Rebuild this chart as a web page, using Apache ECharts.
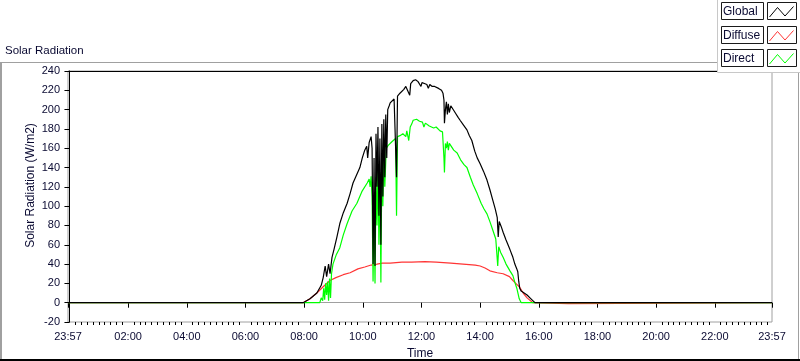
<!DOCTYPE html>
<html><head><meta charset="utf-8">
<script src="https://cdn.jsdelivr.net/npm/echarts@6/dist/echarts.min.js"></script>
<style>html,body{margin:0;padding:0;background:#fff}#c{width:800px;height:361px}</style>
</head><body><div id="c"></div>
<script>
// time values are minutes after 00:00 (23:57 of previous day = -3)
const xLabelTimes = [-3, 120, 240, 360, 480, 600, 720, 840, 960, 1080, 1200, 1320, 1437];
const yTickValues = [-20, 0, 20, 40, 60, 80, 100, 120, 140, 160, 180, 200, 220, 240];
const seriesNames = ['Global', 'Diffuse', 'Direct'];

const globalT = [-3,478,492,506,515,519,523,526,530,533,537,541,547,553,560,568,574,580,587,594,599,604,608,610,613,615,617,619,621,623,625,627,629,631,633,635,637,639,641,643,645,647,649,651,654,656,660,664,667,669,671,676,680,684,688,692,696,698,703,708,713,717,719,721,726,731,734,737,742,747,751,755,758,761,764,766,767,769,771,773,775,777,780,784,790,795,799,806,813,818,823,829,834,840,847,854,860,866,871,875,877,879,883,887,893,901,907,911,915,917,919,921,924,930,936,944,952,1437];
const globalV = [0,0,4,10,18,26,38,27,40,30,47,55,68,82,93,103,113,124,132,140,150,158,162,150,166,168,172,160,40,150,38,175,120,182,90,170,60,185,110,190,130,195,150,200,204,207,209,211,212,130,214,217,219,221,224,226,215,227,230,231,229,228,224,228,227,226,222,226,224,224,223,222,223,220,217,210,186,200,208,195,206,197,204,203,196,192,189,184,179,173,168,157,150,144,136,127,117,106,97,88,68,84,79,73,65,55,47,40,35,32,22,15,12,10,8,4,0,0];

const directT = [-3,512,515,518,520,522,524,526,528,530,532,534,536,539,546,553,560,568,578,588,598,609,613,615,617,619,621,623,625,627,629,631,633,635,637,639,641,643,645,648,652,656,660,664,667,669,671,676,682,688,690,694,697,700,703,710,716,722,725,728,731,736,740,745,750,754,758,763,766,767,769,771,773,775,777,780,786,793,800,807,813,820,826,834,842,848,854,860,866,872,874,876,878,882,887,893,901,907,911,915,920,924,1437];
const directV = [0,0,5,2,15,3,20,8,22,2,25,5,30,40,50,57,70,82,95,103,115,124,128,120,131,110,22,100,20,130,80,140,60,135,21,150,100,155,120,160,163,165,167,169,170,90,172,173,175,172,178,168,182,185,189,190,188,187,182,186,186,183,184,181,182,180,178,177,150,135,165,160,167,158,165,163,158,155,148,143,140,130,122,113,103,97,92,84,75,66,64,38,58,52,47,40,33,28,21,15,4,0,0];

const diffuseT = [-3,478,492,506,520,533,545,560,574,590,604,617,629,640,656,680,700,727,750,780,805,830,840,850,860,875,887,900,907,915,921,928,936,948,952,1020,1022,1437];
const diffuseV = [0,0,4,10,17,23,26,29,31,35,37,39,40,41,41,42,42,42.5,42,41,40,39,38,36,33,31,30,27,23,19,16,10,5,0,-1,-1,0,0];

const colors = { Global: '#000000', Diffuse: '#ff3535', Direct: '#00ff00' };
const zip = (t, v) => t.map((x, i) => [x, v[i]]);

const majorTicks = [-3];
for (let m = 0; m <= 1320; m += 120) majorTicks.push(m);
majorTicks.push(1437);
const minorTicks = [];
for (let m = 12; m < 1437; m += 12) if (m % 120 !== 0) minorTicks.push(m);

function fmt(v) {
  let t = v < 0 ? v + 1440 : v;
  const h = Math.floor(t / 60), m = Math.round(t % 60);
  return String(h).padStart(2, '0') + ':' + String(m).padStart(2, '0');
}

const FONT = 'Liberation Sans';
const TXT = '#0a0a32';

const legendGraphics = [];
const rowTops = [2, 26, 49];
seriesNames.forEach((name, i) => {
  const top = rowTops[i];
  legendGraphics.push({ type: 'rect', shape: { x: 721.5, y: top + 0.5, width: 42, height: 17 },
    style: { fill: '#fff', stroke: '#1a1a1a', lineWidth: 1 }, z: 101 });
  legendGraphics.push({ type: 'text', x: 723, y: top + 9.5,
    style: { text: name, fill: TXT, font: '12px "' + FONT + '"', textVerticalAlign: 'middle' }, z: 102 });
  legendGraphics.push({ type: 'rect', shape: { x: 767.5, y: top + 0.5, width: 29, height: 17 },
    style: { fill: '#fff', stroke: '#1a1a1a', lineWidth: 1 }, z: 101 });
  legendGraphics.push({ type: 'polyline', shape: { points: [[769.5, top + 15], [777.5, top + 5.5], [785, top + 14], [793.5, top + 4.5]] },
    style: { stroke: colors[name], lineWidth: 1, fill: null }, z: 102 });
});

const chart = echarts.init(document.getElementById('c'), null, { renderer: 'canvas' });
chart.setOption({
  animation: false,
  backgroundColor: '#ffffff',
  textStyle: { fontFamily: FONT },
  grid: { left: 68, top: 71, right: 28, bottom: 39, containLabel: false, outerBoundsMode: 'none',
          show: true, borderColor: '#a0a0a0', borderWidth: 1, backgroundColor: '#fff' },
  xAxis: [
    {
      type: 'value', position: 'bottom', min: -3, max: 1437,
      name: 'Time', nameLocation: 'middle', nameGap: 26, nameMoveOverlap: false,
      nameTextStyle: { color: TXT, fontSize: 12, fontFamily: FONT },
      axisLine: { show: true, lineStyle: { color: '#a0a0a0', width: 1 } },
      axisTick: { show: true, length: 5, inside: false, customValues: majorTicks, lineStyle: { color: '#000' } },
      axisLabel: { show: true, customValues: xLabelTimes, formatter: fmt, margin: 9, fontSize: 11, color: TXT, fontFamily: FONT },
      splitLine: { show: false }
    },
    {
      type: 'value', position: 'bottom', min: -3, max: 1437,
      axisLine: { show: false },
      axisTick: { show: true, length: 3, customValues: minorTicks, lineStyle: { color: '#000' } },
      axisLabel: { show: false },
      splitLine: { show: false }
    },
    {
      type: 'value', position: 'top', min: -3, max: 1437,
      axisLine: { show: true, lineStyle: { color: '#000', width: 1 } },
      axisTick: { show: false }, axisLabel: { show: false }, splitLine: { show: false }
    }
  ],
  yAxis: {
    type: 'value', min: yTickValues[0], max: yTickValues[yTickValues.length - 1], interval: 20,
    name: 'Solar Radiation (W/m2)', nameLocation: 'middle', nameGap: 31, nameMoveOverlap: false,
    nameTextStyle: { color: TXT, fontSize: 12, fontFamily: FONT, padding: [0, 0, 0, 22] },
    axisLine: { show: true, lineStyle: { color: '#000', width: 1 } },
    axisTick: { show: true, length: 5, lineStyle: { color: '#000' } },
    axisLabel: { margin: 8, fontSize: 11, color: TXT, fontFamily: FONT },
    splitLine: { show: false }
  },
  series: [
    { name: 'Diffuse', type: 'line', data: zip(diffuseT, diffuseV), symbol: 'none', lineStyle: { color: colors.Diffuse, width: 1.2 }, z: 2 },
    { name: 'Direct', type: 'line', data: zip(directT, directV), symbol: 'none', lineStyle: { color: colors.Direct, width: 1.2 }, z: 3 },
    { name: 'Global', type: 'line', data: zip(globalT, globalV), symbol: 'none', lineStyle: { color: colors.Global, width: 1.2 }, z: 4 }
  ],
  graphic: [
    { type: 'line', shape: { x1: 1, y1: 62, x2: 1, y2: 361 }, style: { stroke: '#a0a0a0', lineWidth: 2 }, z: 90 },
    { type: 'line', shape: { x1: 0, y1: 62.5, x2: 718, y2: 62.5 }, style: { stroke: '#a0a0a0', lineWidth: 1 }, z: 90 },
    { type: 'line', shape: { x1: 798.5, y1: 72, x2: 798.5, y2: 361 }, style: { stroke: '#a0a0a0', lineWidth: 1 }, z: 90 },
    { type: 'line', shape: { x1: 0, y1: 360, x2: 800, y2: 360 }, style: { stroke: '#000', lineWidth: 2 }, z: 90 },
    { type: 'text', x: 5, y: 51, style: { text: 'Solar Radiation', fill: TXT, font: '11.5px "' + FONT + '"', textVerticalAlign: 'middle' }, z: 90 },
    { type: 'rect', shape: { x: 717.5, y: -1, width: 84, height: 73.5 }, style: { fill: '#fff', stroke: '#c8c8c8', lineWidth: 1 }, z: 100 }
  ].concat(legendGraphics)
});
</script>
</body></html>
